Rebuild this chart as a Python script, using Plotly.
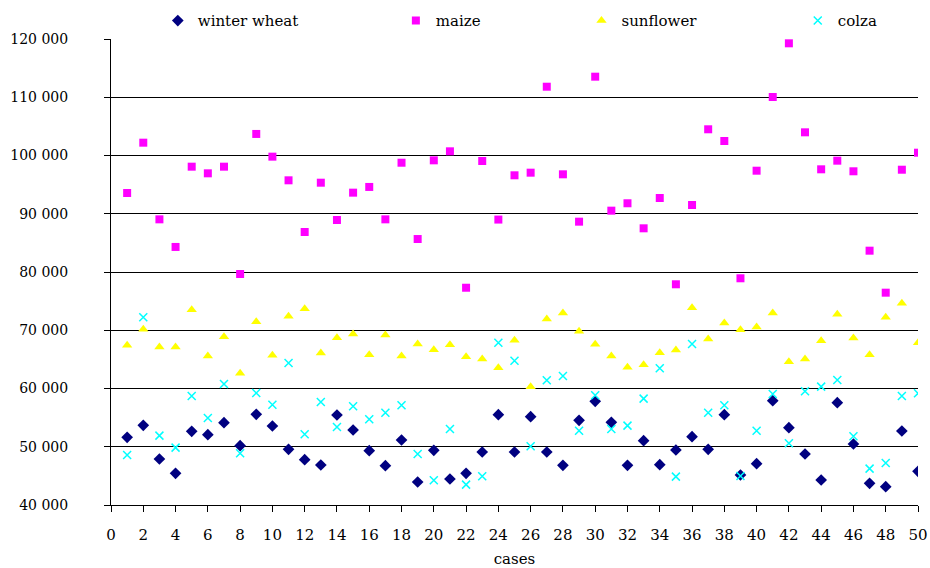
import plotly.graph_objects as go

cases = list(range(1, 51))

winter_wheat = [51619, 53680, 47900, 45440, 52650, 52076, 54136, 50188, 55566, 53565,
                49559, 47786, 46870, 55452, 52878, 49330, 46756, 51162, 43951, 49387,
                44466, 45440, 49101, 55509, 49101, 55166, 49101, 46813, 54537, 57799,
                54193, 46813, 51047, 46927, 49445, 51734, 49559, 55509, 45153, 47099,
                57913, 53278, 48757, 44295, 57570, 50474, 43722, 43150, 52706, 45783]

maize = [93560, 102200, 89040, 84300, 98080, 96940, 98080, 79660, 103700, 99800,
         95740, 86870, 95330, 88930, 93620, 94600, 89040, 98760, 85660, 99170,
         100720, 77300, 99060, 89000, 96600, 97050, 111810, 96770, 88640, 113530,
         90530, 91800, 87500, 92700, 77890, 91500, 104500, 102490, 78920, 97390,
         110040, 119260, 103980, 97630, 99110, 97290, 83660, 76450, 97560, 100480]

sunflower = [67410, 70160, 67126, 67126, 73534, 65580, 68900, 62605, 71475, 65695,
             72390, 73706, 66096, 68728, 69358, 65810, 69186, 65580, 67640, 66667,
             67526, 65466, 65066, 63578, 68270, 60317, 71932, 72962, 69815, 67583,
             65580, 63635, 64093, 66153, 66611, 73878, 68500, 71246, 70101, 70559,
             72962, 64608, 65066, 68213, 72733, 68670, 65810, 72218, 74622, 67870]

colza = [48586, 72218, 51905, 49845, 58714, 54938, 60774, 48873, 59229, 57226,
         64380, 52134, 57684, 53393, 56940, 54709, 55853, 57112, 48758, 44237,
         53050, 43494, 44924, 67870, 64780, 50074, 61404, 62148, 52763, 58829,
         53050, 53622, 58257, 63464, 44867, 67640, 55853, 57112, 44981, 52763,
         59058, 50589, 59515, 60317, 61461, 51791, 46241, 47214, 58714, 59172]

y_tick_vals = [40000, 50000, 60000, 70000, 80000, 90000, 100000, 110000, 120000]
y_tick_text = ["40 000", "50 000", "60 000", "70 000", "80 000", "90 000",
               "100 000", "110 000", "120 000"]
x_tick_vals = list(range(0, 51, 2))

FONT = "DejaVu Serif"

fig = go.Figure()
fig.add_trace(go.Scatter(x=cases, y=winter_wheat, mode="markers", name="winter wheat",
                         marker=dict(symbol="diamond", color="#000080", size=9),
                         legend="legend"))
fig.add_trace(go.Scatter(x=cases, y=maize, mode="markers", name="maize",
                         marker=dict(symbol="square", color="#FF00FF", size=8),
                         legend="legend2"))
fig.add_trace(go.Scatter(x=cases, y=sunflower, mode="markers", name="sunflower",
                         marker=dict(symbol="triangle-up", color="#FFFF00", size=9),
                         legend="legend3"))
fig.add_trace(go.Scatter(x=cases, y=colza, mode="markers", name="colza",
                         marker=dict(symbol="x-thin", color="#00FFFF", size=8,
                                     line=dict(color="#00FFFF", width=1.5)),
                         legend="legend4"))

leg_common = dict(orientation="h", yanchor="middle", y=1.039, xanchor="left",
                  bgcolor="rgba(0,0,0,0)", font=dict(family=FONT, size=15, color="#000"))
fig.update_layout(
    width=930, height=568,
    margin=dict(l=111, r=12, t=39, b=63, autoexpand=False),
    paper_bgcolor="white", plot_bgcolor="white",
    font=dict(family=FONT, size=14, color="#000"),
    showlegend=True,
    legend=dict(x=0.058, **leg_common),
    legend2=dict(x=0.353, **leg_common),
    legend3=dict(x=0.583, **leg_common),
    legend4=dict(x=0.851, **leg_common),
    xaxis=dict(range=[0, 50], tickvals=x_tick_vals, showgrid=False, zeroline=False,
               automargin=False,
               showline=True, linecolor="#000", linewidth=1,
               ticks="outside", ticklen=6, tickcolor="#000",
               ticklabelstandoff=10,
               tickfont=dict(family=FONT, size=15),
               title=dict(text="cases", font=dict(family=FONT, size=15), standoff=17)),
    yaxis=dict(range=[40000, 120000], tickvals=y_tick_vals, ticktext=y_tick_text,
               automargin=False,
               showgrid=True, gridcolor="#000", gridwidth=1, zeroline=False,
               showline=True, linecolor="#000", linewidth=1,
               ticks="outside", ticklen=6, tickcolor="#000",
               ticklabelstandoff=33,
               tickfont=dict(family=FONT, size=14)),
)

fig.write_html("out.html", config={"displayModeBar": False},
               post_script="document.body.style.margin='0';")
